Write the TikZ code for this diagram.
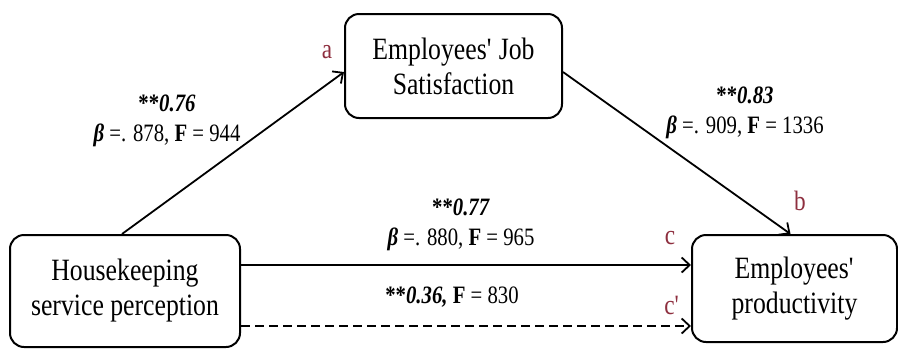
\documentclass[tikz,border=0pt]{standalone}
\usepackage{fontspec}
\setmainfont{Liberation Serif}[FakeStretch=0.83]
\usepackage{tikz}
\usetikzlibrary{positioning,arrows.meta}
\definecolor{PathRed}{HTML}{8E2F3F}

\begin{document}
\begin{tikzpicture}[x=1pt,y=-1pt,>={Straight Barb[length=8pt,width=15pt]}]
  \tikzstyle{varbox}=[draw,line width=2pt,rounded corners=14pt,inner sep=0pt,
    align=center,font=\fontsize{31}{35}\selectfont]
  \tikzstyle{coef}=[inner sep=0pt,align=center,font=\fontsize{25}{30}\selectfont]
  \tikzstyle{pathlab}=[inner sep=0pt,text=PathRed,font=\fontsize{28}{30}\selectfont]
  \tikzstyle{link}=[->,line width=1.8pt]
  \useasboundingbox (0,0) rectangle (898,349);
  \node[varbox,minimum width=217pt,minimum height=104pt] (jobsat) at (453.5,66) {Employees\textquotesingle{} Job\\Satisfaction};
  \node[varbox,minimum width=230pt,minimum height=112pt] (house) at (125,291) {Housekeeping\\service perception};
  \node[varbox,minimum width=205pt,minimum height=107pt] (prod) at (794.5,288.5) {Employees\textquotesingle\\productivity};
  % paths
  \draw[link] ([xshift=-3pt]house.north) -- ([yshift=-6pt]jobsat.west);
  \draw[link] ([yshift=-6pt]jobsat.east) -- ([xshift=-4pt]prod.north);
  \draw[link] ([yshift=26pt]house.east) -- ([yshift=26pt]house.east -| prod.west);
  \draw[link,dash pattern=on 9pt off 5pt] ([yshift=-35pt]house.east) -- ([yshift=-35pt]house.east -| prod.west);
  % coefficients
  \node[coef] (coefa) at (167,121) {\textbf{**\textit{0.76}}\\\textbf{\textit{β}} =. 878, \textbf{F} = 944};
  \node[coef] (coefb) at (745,113) {\textbf{**\textit{0.83}}\\\textbf{\textit{β}} =. 909, \textbf{F} = 1336};
  \node[coef] (coefc) at (461,225) {\textbf{**\textit{0.77}}\\\textbf{\textit{β}} =. 880, \textbf{F} = 965};
  \node[coef] (coefd) at (452,297) {\textbf{**\textit{0.36,}} \textbf{F} = 830};
  \node[pathlab] (laba) at (327,52) {a};
  \node[pathlab] (labb) at (800,201) {b};
  \node[pathlab] (labc) at (670,238) {c};
  \node[pathlab] (labd) at (672,305) {c\textquotesingle};
\end{tikzpicture}
\end{document}
